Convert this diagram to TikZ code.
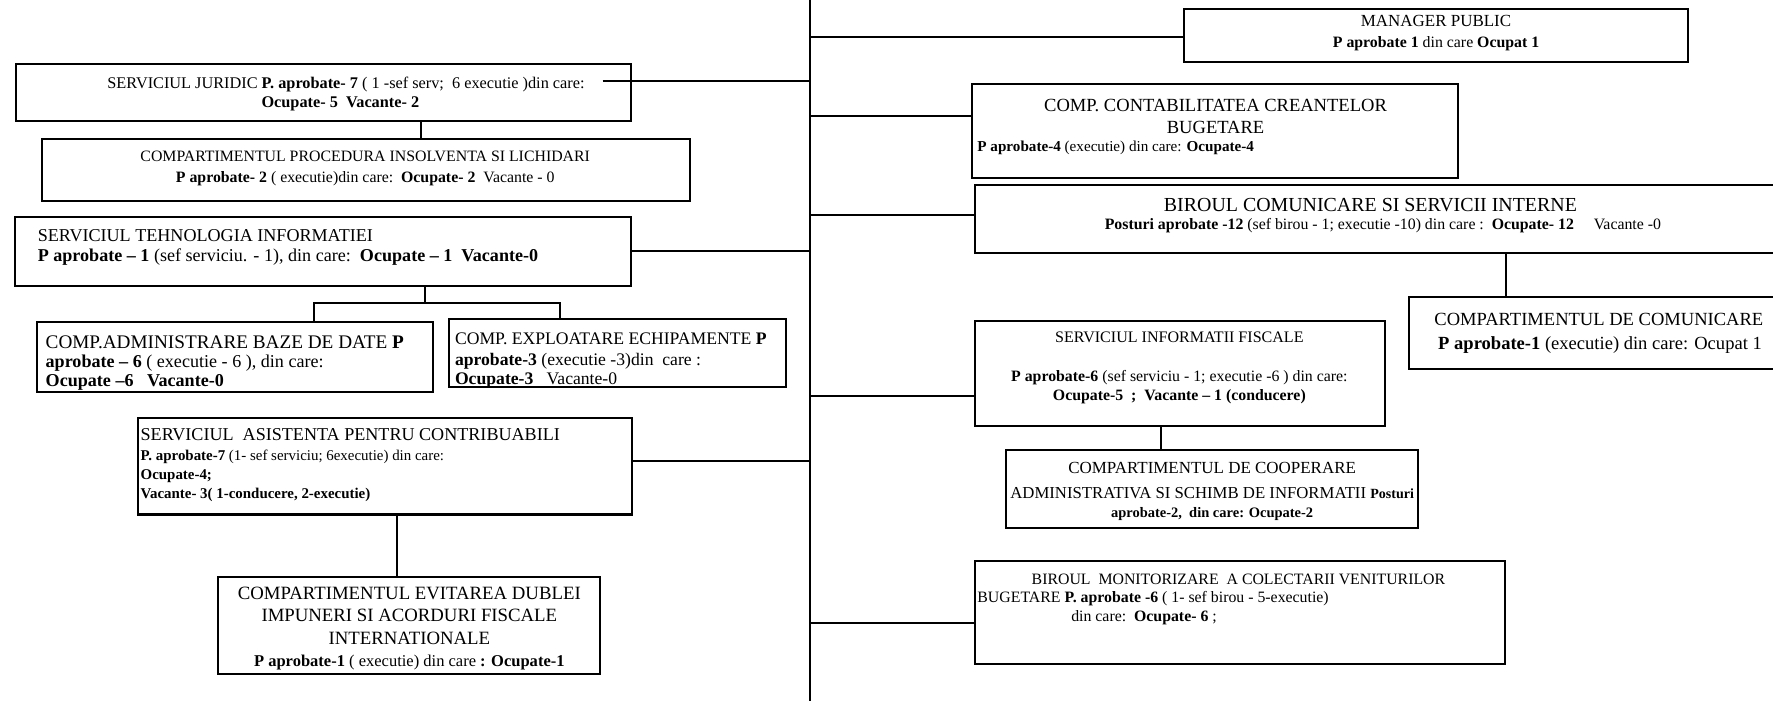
\documentclass[tikz,border=0pt]{standalone}
\usepackage{fontspec}
\setmainfont{Liberation Serif}
\usetikzlibrary{fit}
\newcommand\fz[1]{\fontsize{#1}{#1}\selectfont}
\tikzset{
  box/.style={draw, line width=0.9pt, inner sep=0pt},
  ln/.style={line width=0.9pt},
  tl/.style={inner sep=0pt, anchor=base west},
  tc/.style={inner sep=0pt, anchor=base},
}
\begin{document}
\begin{tikzpicture}[x=0.5pt,y=-0.5pt]
\clip (0,0) rectangle (1568,620);
\fill[white] (0,0) rectangle (1568,620);
% spine
\coordinate (sp) at (716,0);
\coordinate (spb) at (716,620);
\draw[ln] (sp) -- (spb);

% ---------- left side ----------
\node[box, fit={(14,57) (558,107)}] (J) {};
\node[tc] (J1) at (306,78) {\fz{7.2}SERVICIUL JURIDIC \textbf{P. aprobate- 7} ( 1 -sef serv;\ \ 6 executie )din care:};
\node[tc] (J2) at (301,95) {\fz{7.2}\textbf{Ocupate- 5\ \ Vacante- 2}};
\coordinate (Jc) at (533,72);
\draw[ln] (Jc) -- (sp |- Jc);

\node[box, fit={(37,123) (610,178)}] (P) {};
\node[tc] (P1) at (323,143) {\fz{7}COMPARTIMENTUL PROCEDURA INSOLVENTA SI LICHIDARI};
\node[tc] (P2) at (323,161) {\fz{7}\textbf{P aprobate- 2} ( executie)din care:\ \ \textbf{Ocupate- 2}\ \ Vacante - 0};
\draw[ln] (J.south -| 372,0) -- (P.north -| 372,0);

\node[box, fit={(13,192) (558,253)}] (T) {};
\node[tl] (T1) at (33,214) {\fz{8}SERVICIUL TEHNOLOGIA INFORMATIEI};
\node[tl] (T2) at (33,231) {\fz{8}\textbf{P aprobate – 1} (sef serviciu. - 1), din care:\ \ \textbf{Ocupate – 1\ \ Vacante-0}};
\draw[ln] (T.east |- 0,222) -- (sp |- 0,222);

\node[box, fit={(33,285) (383,347)}] (A) {};
\node[tl] (A1) at (40,308) {\fz{8.5}COMP.ADMINISTRARE BAZE DE DATE \textbf{P}};
\node[tl] (A2) at (40,325) {\fz{8}\textbf{aprobate – 6} ( executie - 6 ), din care:};
\node[tl] (A3) at (40,342) {\fz{8}\textbf{Ocupate –6\ \ \ Vacante-0}};

\node[box, fit={(397,282) (695,342)}] (E) {};
\node[tl] (E1) at (402,305) {\fz{7.8}COMP. EXPLOATARE ECHIPAMENTE \textbf{P}};
\node[tl] (E2) at (402,323) {\fz{7.8}\textbf{aprobate-3} (executie -3)din\ \ care :};
\node[tl] (E3) at (402,340) {\fz{7.8}\textbf{Ocupate-3}\ \ \ Vacante-0};

\coordinate (Tb) at (376,268);
\draw[ln] (T.south -| Tb) -- (Tb);
\draw[ln] (A.north -| 278,0) |- (Tb) -| (E.north -| 495,0);

\node[box, fit={(122,370) (559,455)}] (S) {};
\node[tl] (S1) at (124,390) {\fz{8}SERVICIUL\ \ ASISTENTA PENTRU CONTRIBUABILI};
\node[tl] (S2) at (124,407) {\fz{6.6}\textbf{P. aprobate-7} (1- sef serviciu; 6executie) din care:};
\node[tl] (S3) at (124,424) {\fz{6.6}\textbf{Ocupate-4;}};
\node[tl] (S4) at (124,441) {\fz{6.6}\textbf{Vacante- 3( 1-conducere, 2-executie)}};
\draw[ln] (S.east |- 0,408) -- (sp |- 0,408);

\node[box, fit={(193,510) (531,596)}] (V) {};
\node[tc] (V1) at (362,530) {\fz{8.3}COMPARTIMENTUL EVITAREA DUBLEI};
\node[tc] (V2) at (362,550) {\fz{8.3}IMPUNERI SI ACORDURI FISCALE};
\node[tc] (V3) at (362,570) {\fz{8.3}INTERNATIONALE};
\node[tc] (V4) at (362,589) {\fz{7.3}\textbf{P aprobate-1} ( executie) din care \textbf{: Ocupate-1}};
\draw[ln] (S.south -| 351,0) -- (V.north -| 351,0);

% ---------- right side ----------
\node[box, fit={(1047,8) (1493,55)}] (M) {};
\node[tc] (M1) at (1270,23) {\fz{7.5}MANAGER PUBLIC};
\node[tc] (M2) at (1270,42) {\fz{7}\textbf{P aprobate 1} din care \textbf{Ocupat 1}};
\draw[ln] (sp |- 0,33) -- (M.west |- 0,33);

\node[box, fit={(860,74) (1289,157)}] (C) {};
\node[tc] (C1) at (1075,99) {\fz{8.2}COMP. CONTABILITATEA CREANTELOR};
\node[tc] (C2) at (1075,118) {\fz{8.2}BUGETARE};
\node[tl] (C3) at (864,134) {\fz{6.7}\textbf{P aprobate-4} (executie) din care: \textbf{Ocupate-4}};
\draw[ln] (sp |- 0,103) -- (C.west |- 0,103);

\node[box, fit={(862,164) (1600,224)}] (B) {};
\node[tc] (B1) at (1212,187) {\fz{8.8}BIROUL COMUNICARE SI SERVICII INTERNE};
\node[tc] (B2) at (1223,203) {\fz{7}\textbf{Posturi aprobate -12} (sef birou - 1; executie -10) din care :\ \ \textbf{Ocupate- 12}\ \ \ \ \ Vacante -0};
\draw[ln] (sp |- 0,190) -- (B.west |- 0,190);

\node[box, fit={(1246,263) (1600,326)}] (CC) {};
\node[tc] (CC1) at (1414,288) {\fz{8.2}COMPARTIMENTUL DE COMUNICARE};
\node[tc] (CC2) at (1415,309) {\fz{8.2}\textbf{P aprobate-1} (executie) din care: Ocupat 1};
\draw[ln] (B.south -| 1332,0) -- (CC.north -| 1332,0);

\node[box, fit={(862,284) (1225,377)}] (I) {};
\node[tc] (I1) at (1043,303) {\fz{7.1}SERVICIUL INFORMATII FISCALE};
\node[tc] (I2) at (1043,337) {\fz{7}\textbf{P aprobate-6} (sef serviciu - 1; executie -6 ) din care:};
\node[tc] (I3) at (1043,354) {\fz{7}\textbf{Ocupate-5\ \ ;\ \ Vacante – 1 (conducere)}};
\draw[ln] (sp |- 0,350) -- (I.west |- 0,350);

\node[box, fit={(890,398) (1254,467)}] (CO) {};
\node[tc] (CO1) at (1072,419) {\fz{7.5}COMPARTIMENTUL DE COOPERARE};
\node[tc] (CO2) at (1072,441) {\fz{7.4}ADMINISTRATIVA SI SCHIMB DE INFORMATII \textbf{\fz{6.2}Posturi}};
\node[tc] (CO3) at (1072,458) {\fz{6.4}\textbf{aprobate-2,\ \ din care: Ocupate-2}};
\draw[ln] (I.south -| 1027,0) -- (CO.north -| 1027,0);

\node[box, fit={(862,496) (1331,587)}] (BM) {};
\node[tl] (BM1) at (912,517) {\fz{7}BIROUL\ \ MONITORIZARE\ \ A COLECTARII VENITURILOR};
\node[tl] (BM2) at (864,533) {\fz{7}BUGETARE \textbf{P. aprobate -6} ( 1- sef birou - 5-executie)};
\node[tl] (BM3) at (947,550) {\fz{7}din care:\ \ \textbf{Ocupate- 6} ;};
\draw[ln] (sp |- 0,551) -- (BM.west |- 0,551);
\end{tikzpicture}
\end{document}
